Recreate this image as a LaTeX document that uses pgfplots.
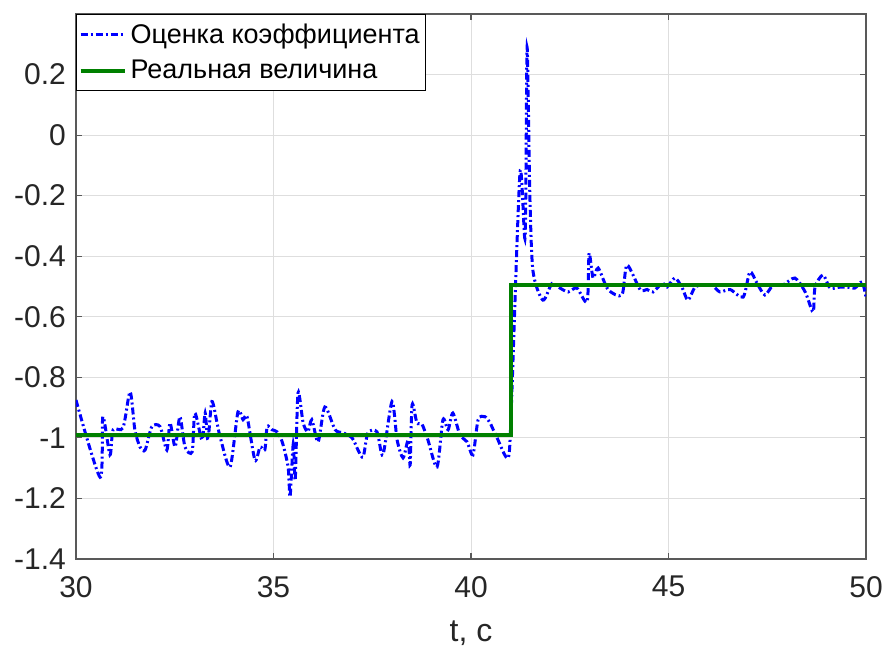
\documentclass[border=0pt]{standalone}
\usepackage{fontspec}
\setmainfont{Liberation Sans}
\usepackage{pgfplots}
\pgfplotsset{compat=1.18}
\definecolor{mblue}{rgb}{0,0,1}
\definecolor{mgreen}{rgb}{0,0.5,0}
\definecolor{axgray}{rgb}{0.15,0.15,0.15}
\begin{document}
\begin{tikzpicture}
\begin{axis}[
  scale only axis,
  width=395pt, height=272.5pt,
  xmin=30, xmax=50, ymin=-1.4, ymax=0.4,
  xtick={30,35,40,45,50},
  ytick={-1.4,-1.2,-1,-0.8,-0.6,-0.4,-0.2,0,0.2},
  yticklabels={-1.4,-1.2,-1,-0.8,-0.6,-0.4,-0.2,0,0.2},
  /pgf/number format/assume math mode=true,
  tick align=inside,
  major tick length=3pt,
  grid=major,
  major grid style={draw=black!13, line width=0.5pt},
  axis line style={draw=black!65, line width=0.6pt},
  tick style={draw=black!65, line width=0.6pt},
  every tick label/.append style={text=axgray, font=\fontsize{15}{18}\selectfont},
  xticklabel style={yshift=-5pt},
  yticklabel style={xshift=-1.5pt},
  xlabel={t, c},
  xlabel style={text=axgray, font=\fontsize{16}{19}\selectfont, yshift=-5pt},
  legend style={at={(0,1)}, anchor=north west, draw=black, line width=0.6pt,
    font=\fontsize{13.5}{16}\selectfont, inner xsep=1pt, inner ysep=2.5pt, row sep=3pt,
    /tikz/every even column/.append style={column sep=0pt}},
  legend cell align=left,
  legend image code/.code={\draw[#1] (0pt,0pt) -- (22pt,0pt);},
]
\addplot[mblue, line width=1.5pt, dash pattern={on 3.5pt off 1.5pt on 1pt off 1.5pt}, smooth, tension=0.45] coordinates {
(30.00,-0.875) (30.61,-1.13) (30.68,-0.93) (30.86,-1.056) (30.94,-0.973)
(31.19,-0.967) (31.37,-0.848) (31.49,-0.973) (31.62,-1.03) (31.75,-1.04)
(31.92,-0.963) (32.13,-0.963) (32.30,-1.04) (32.38,-0.95) (32.51,-1.03)
(32.63,-0.93) (32.76,-1.03) (32.94,-1.046) (33.01,-0.918) (33.19,-1.007)
(33.27,-0.918) (33.34,-1.007) (33.44,-0.88) (33.57,-0.95) (33.65,-0.997)
(33.90,-1.096) (34.10,-0.914) (34.23,-0.94) (34.33,-0.93) (34.53,-1.073)
(34.66,-1.03) (34.78,-1.04) (34.84,-0.963) (34.96,-0.973) (35.09,-0.98)
(35.22,-1.013) (35.37,-1.096) (35.42,-1.195) (35.50,-1.02) (35.55,-1.14)
(35.62,-0.852) (35.75,-0.95) (35.87,-0.98) (35.97,-0.94) (36.13,-1.013)
(36.30,-0.898) (36.56,-0.973) (36.76,-0.983) (36.99,-1.0) (37.14,-1.04)
(37.27,-1.063) (37.39,-0.983) (37.62,-0.98) (37.77,-1.056) (38.00,-0.88)
(38.13,-1.007) (38.28,-1.066) (38.41,-1.007) (38.46,-1.089) (38.51,-0.89)
(38.63,-0.95) (38.76,-0.955) (38.91,-1.007) (39.14,-1.096) (39.29,-0.94)
(39.42,-0.973) (39.54,-0.918) (39.72,-0.99) (39.90,-1.013) (40.05,-1.056)
(40.18,-0.94) (40.35,-0.93) (40.48,-0.95) (40.66,-1.0) (40.94,-1.066)
(41.02,-0.90) (41.24,-0.125) (41.37,-0.337) (41.42,0.29) (41.49,-0.20)
(41.57,-0.45) (41.82,-0.545) (42.05,-0.49) (42.25,-0.505) (42.46,-0.518)
(42.68,-0.505) (42.94,-0.55) (42.99,-0.39) (43.09,-0.472) (43.22,-0.439)
(43.47,-0.51) (43.82,-0.528) (43.95,-0.429) (44.28,-0.51) (44.46,-0.51)
(44.61,-0.518) (44.84,-0.489) (44.96,-0.502) (45.16,-0.472) (45.34,-0.502)
(45.49,-0.545) (45.67,-0.502) (45.85,-0.495) (46.10,-0.495) (46.30,-0.518)
(46.56,-0.51) (46.89,-0.535) (47.06,-0.452) (47.24,-0.489) (47.44,-0.528)
(47.65,-0.495) (47.90,-0.495) (48.20,-0.472) (48.46,-0.518) (48.66,-0.584)
(48.71,-0.502) (48.91,-0.462) (49.09,-0.505) (49.34,-0.502) (49.52,-0.502)
(49.72,-0.505) (49.90,-0.485) (50.00,-0.535)
};
\addlegendentry{Оценка коэффициента}
\addplot[mgreen, line width=2pt] coordinates {
(30,-0.99) (41,-0.99) (41,-0.495) (50,-0.495)
};
\addlegendentry{Реальная величина}
\end{axis}
\pgfresetboundingbox
\path[use as bounding box] (-38pt,-43.5pt) rectangle (405pt,279.5pt);
\end{tikzpicture}
\end{document}
